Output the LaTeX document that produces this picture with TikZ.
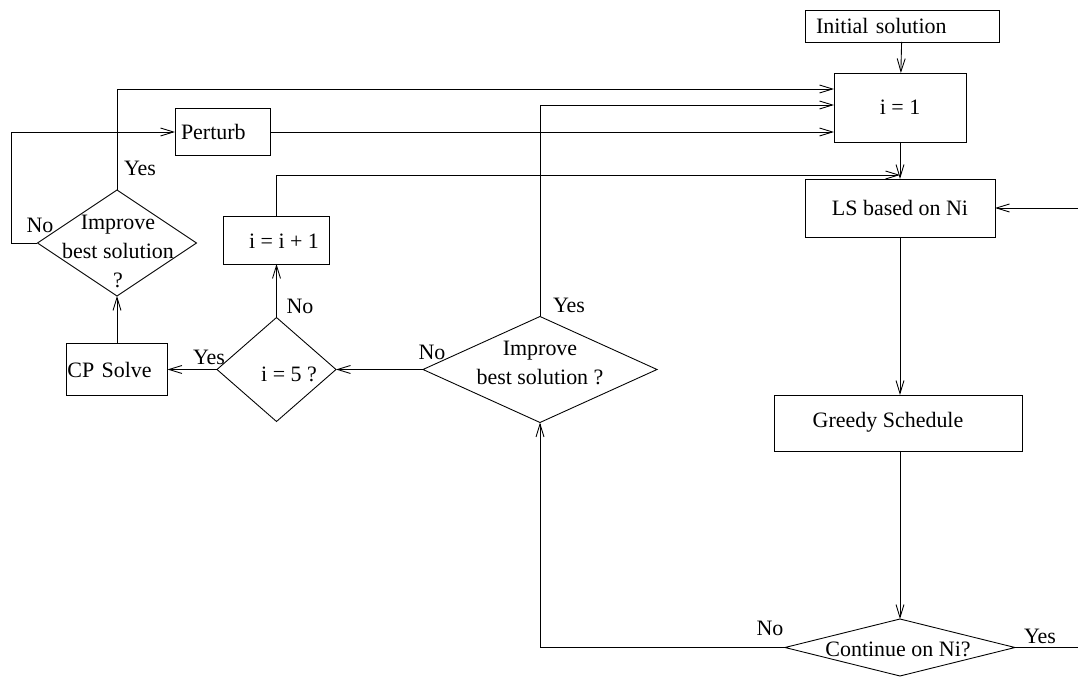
\documentclass[tikz,border=0pt]{standalone}
\usepackage{fontspec}
\setmainfont{Liberation Serif}
\usetikzlibrary{shapes.geometric,arrows.meta}

\begin{document}
\begin{tikzpicture}[x=0.2mm,y=-0.2mm,line width=0.5pt,
    font=\fontsize{12.5}{16.5}\selectfont,
    every node/.style={outer sep=0pt},
    >={Straight Barb[length=2.6mm,width=1.6mm]},
    block/.style={draw,inner sep=0pt},
    lblock/.style={draw,inner ysep=0pt,align=left},
    decision/.style={draw,diamond,inner sep=0pt},
    lbl/.style={inner sep=0pt}]
  \useasboundingbox (0,0) rectangle (1078,677);

  % right column
  \node[lblock,inner xsep=2.2mm,text width=34.4mm,minimum height=6.4mm] (init) at (902,26) {Initial solution};
  \node[block,minimum width=26.4mm,minimum height=13.8mm] (one) at (900,107.5) {i = 1};
  \node[block,minimum width=38mm,minimum height=11.6mm] (ls) at (900,208) {LS based on Ni};
  \node[block,minimum width=49.6mm,minimum height=11.2mm] (greedy) at (898,423) {};
  \node[lbl] (greedytxt) at (888,422) {Greedy Schedule};
  \node[decision,minimum width=46mm,minimum height=11.4mm] (cont) at (900,647.5) {};
  \node[lbl] (conttxt) at (898,649) {Continue on Ni?};

  % middle and left part
  \node[decision,minimum width=46.8mm,minimum height=21.2mm] (mid) at (540,369.5) {};
  \node[lbl,align=center] (midtxt) at (540,363) {Improve\\best solution ?};
  \node[decision,minimum width=23.8mm,minimum height=20.8mm] (five) at (276.5,369.5) {};
  \node[lbl] (fivetxt) at (289,374) {i = 5 ?};
  \node[block,minimum width=21.2mm,minimum height=9.6mm] (inc) at (276.5,240) {};
  \node[lbl] (inctxt) at (284,241) {i = i + 1};
  \node[lblock,inner xsep=0.2mm,text width=19.8mm,minimum height=10.4mm] (cp) at (117,369.5) {CP Solve};
  \node[decision,minimum width=31.8mm,minimum height=21.2mm] (left) at (117,243) {};
  \node[lbl,align=center] (lefttxt) at (118,251) {Improve\\best solution\\?};
  \node[lblock,inner xsep=1.2mm,text width=16.6mm,minimum height=9.4mm] (perturb) at (222.5,132) {Perturb};

  % loose ends at the right border
  \coordinate (yesout) at (1078,647.5);
  \coordinate (lsin) at (1078,208);

  % labels
  \node[lbl] (yes1) at (140,168) {Yes};
  \node[lbl] (no1) at (40,225) {No};
  \node[lbl] (no2) at (300,306) {No};
  \node[lbl] (yes2) at (209,357) {Yes};
  \node[lbl] (no3) at (432,352) {No};
  \node[lbl] (yes3) at (569,305) {Yes};
  \node[lbl] (no4) at (770,628) {No};
  \node[lbl] (yes4) at (1040,636) {Yes};

  % connectors
  \draw[->] (init) -- (one);
  \draw[->] (one) -- (ls);
  \draw[->] (ls) -- (ls.south |- greedy.north);
  \draw[->] (ls.south |- greedy.south) -- (cont.north);
  \draw (cont.east) -- (yesout);
  \draw[->] (lsin) -- (ls);
  \draw[->] (cont.west) -| (mid.south);
  \draw[->] (mid.north) |- ([yshift=0.5mm]one.west);
  \draw[->] (mid.west) -- (five.east);
  \draw[->] (five.west) -- (cp.east);
  \draw[->] (five.north) -- (inc.south);
  \draw[->] (inc.north) |- ([yshift=0.8mm]ls.north);
  \draw[->] (cp.north) -- (left.south);
  \draw[->] (left.west) -- ++(-26,0) |- (perturb.west);
  \draw[->] (left.north) |- ([yshift=3.7mm]one.west);
  \draw[->] (perturb.east) -- (perturb.east -| one.west);
\end{tikzpicture}
\end{document}
